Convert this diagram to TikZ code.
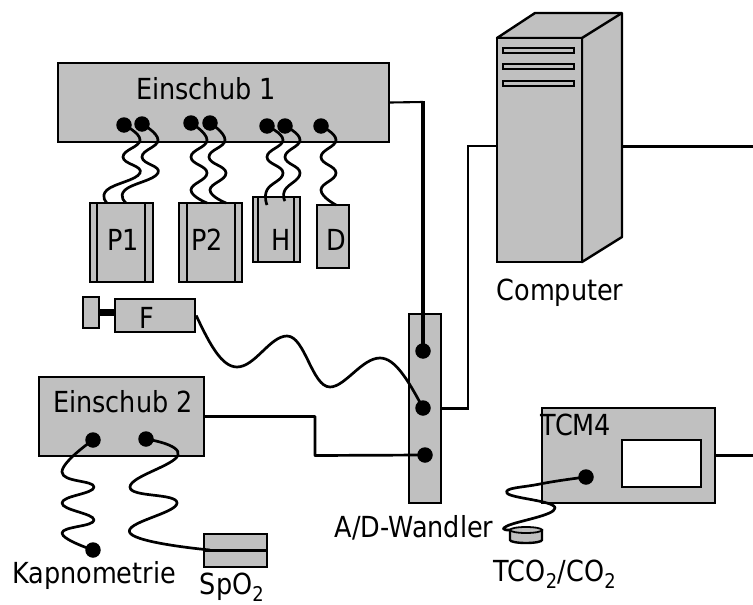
\documentclass[tikz,border=0pt]{standalone}
\usepackage{fontspec}
\setmainfont[FakeStretch=0.88]{DejaVu Sans}
\usepackage{tikz}
\usetikzlibrary{positioning, calc}

\begin{document}
\begin{tikzpicture}[
    x=1pt, y=-1pt,
    every node/.style={font=\fontsize{29}{31}\selectfont, align=center, inner sep=0pt},
    every plot/.style={smooth, tension=0.8},
    unit/.style={
      rectangle, draw=black, line width=2.4pt, fill=boxgray
    },
    jack/.style={
      circle, fill=black, minimum size=15.5pt
    },
    wire/.style={line width=2.7pt, line join=round},
    cable/.style={line width=2.1pt},
    slot/.style={draw=black, line width=1.8pt, fill=boxgray}
  ]
    \definecolor{boxgray}{RGB}{192,192,192}
    \useasboundingbox (0,0) rectangle (753,605);

    % Einschub 1
    \node[unit, minimum width=331pt, minimum height=79pt] (einschubA) at (223.5,102.5) {};
    \node (einschubAtext) at (206,89) {Einschub 1};
    \node[jack] (jackA) at (124,125) {};
    \node[jack] (jackB) at (142,124) {};
    \node[jack] (jackC) at (191,123) {};
    \node[jack] (jackD) at (210,123) {};
    \node[jack] (jackE) at (267,126) {};
    \node[jack] (jackF) at (285,126) {};
    \node[jack] (jackG) at (321,126) {};

    % Sensors
    \node[unit, minimum width=63pt, minimum height=79pt] (sensorP) at (121.5,242.5) {};
    \node[unit, minimum width=63pt, minimum height=79pt] (sensorQ) at (210.5,242.5) {};
    \node[unit, minimum width=47pt, minimum height=65pt] (sensorH) at (276.5,229.5) {};
    \node[unit, minimum width=32pt, minimum height=63pt] (sensorD) at (333,236.5) {};
    \draw[unit] (97,203) -- (97,282) (145,203) -- (145,282);
    \draw[unit] (187,203) -- (187,282) (235,203) -- (235,282);
    \draw[unit] (258,197) -- (258,262) (294,197) -- (294,262);
    \node (labelP) at (123,240) {P1};
    \node (labelQ) at (207,240) {P2};
    \node (labelH) at (281,240) {H};
    \node (labelD) at (336,240) {D};

    \draw[wire] plot coordinates {(jackA.center) (140,140) (123,157) (140,173) (107,190) (107,203)};
    \draw[wire] plot coordinates {(jackB.center) (158,140) (142,157) (158,173) (125,190) (126,203)};
    \draw[wire] plot coordinates {(jackC.center) (207,140) (191,157) (207,173) (191,190) (207,203)};
    \draw[wire] plot coordinates {(jackD.center) (225,140) (209,157) (226,173) (210,190) (226,203)};
    \draw[wire] plot coordinates {(jackE.center) (283,140) (267,157) (283,173) (267,190) (267,205)};
    \draw[wire] plot coordinates {(jackF.center) (300,140) (285,157) (300,173) (285,190) (285,201)};
    \draw[wire] plot coordinates {(jackG.center) (336,140) (321,157) (336,173) (321,190) (336,205)};

    % F
    \node[unit, minimum width=16pt, minimum height=31pt, line width=1.8pt] (knob) at (91,312.5) {};
    \node[unit, minimum width=80pt, minimum height=33pt] (flow) at (155,315.5) {};
    \draw[line width=7pt] (knob.east) -- (flow.west |- knob.east);
    \node (flowtext) at (147,318) {F};

    % A/D-Wandler
    \node[unit, minimum width=32pt, minimum height=189pt] (wandler) at (425,408.5) {};
    \node[jack] (portA) at (423,351) {};
    \node[jack] (portB) at (423,408) {};
    \node[jack] (portC) at (425,455) {};
    \node (wandlertext) at (414,528) {A/D-Wandler};

    \draw[wire] (flow.east) .. controls (210,345) and (222,367) .. (237,367)
      .. controls (255,367) and (270,336) .. (287,336)
      .. controls (305,336) and (312,387) .. (330,387)
      .. controls (345,387) and (362,358) .. (380,358)
      .. controls (395,358) and (408,380) .. (portB.center);
    \draw[cable] (einschubA.east) -- (423,102);
    \draw[line width=3.2pt] (423,101) -- (portA.center);

    % Einschub 2
    \node[unit, minimum width=165pt, minimum height=79pt] (einschubB) at (121.5,416.5) {};
    \node (einschubBtext) at (123,402) {Einschub 2};
    \node[jack] (jackH) at (93,440) {};
    \node[jack] (jackI) at (146,439) {};
    \draw[wire] (einschubB.east) -- (315,416.5) -- (315,455.5) -- (portC.center);

    \node[jack] (kapno) at (93,550) {};
    \node (kapnotext) at (94,575) {Kapnometrie};
    \node[unit, minimum width=63pt, minimum height=33pt] (spo) at (235.5,550.5) {};
    \node (spotext) at (232,587) {SpO\textsubscript{2}};
    \draw[cable] (spo.west) -- (spo.east);
    \draw[wire] plot coordinates {(jackH.center) (62,472) (94,487) (62,503) (94,520) (62,533) (kapno.center)};
    \draw[wire] plot coordinates {(jackI.center) (178,455) (130,487) (177,503) (130,533) (210,550)};

    % Computer
    \draw[unit, line join=round] (497,38) -- (535,13) -- (622,13) -- (622,237) -- (582,262) -- (582,38) -- cycle;
    \draw[unit] (582,38) -- (622,13);
    \node[unit, minimum width=85pt, minimum height=224pt] (computer) at (539.5,150) {};
    \draw[slot] (503,48) rectangle (574,53);
    \draw[slot] (503,64) rectangle (574,69);
    \draw[slot] (503,81) rectangle (574,86);
    \node (computertext) at (560,293) {Computer};
    \coordinate (rightA) at (753,146.5);
    \draw[cable] (wandler.east) -- (468,408.5) -- (468,146) -- (computer.west |- 0,146);
    \draw[cable] (622,146.5) -- (rightA);

    % TCM4
    \node[unit, minimum width=173pt, minimum height=95pt] (tcm) at (628.5,455.5) {};
    \node[unit, fill=white, minimum width=79pt, minimum height=47pt] (display) at (661.5,463.5) {};
    \node (tcmtext) at (576,425) {TCM4};
    \node[jack] (jackJ) at (586,477) {};
    \coordinate (rightB) at (753,455.5);
    \draw[wire] (tcm.east) -- (rightB);

    \draw[unit] (510,530) -- (510,540) arc[start angle=180, end angle=0, x radius=16, y radius=3] -- (542,530) -- cycle;
    \draw[unit, line width=1.8pt] (526,530) ellipse[x radius=16, y radius=3];
    \coordinate (sensortop) at (511,530);
    \draw[wire] plot coordinates {(jackJ.center) (540,484) (507,493) (555,508) (507,526) (sensortop)};
    \node (sensortext) at (555,574) {TCO\textsubscript{2}/CO\textsubscript{2}};
  \end{tikzpicture}
\end{document}
